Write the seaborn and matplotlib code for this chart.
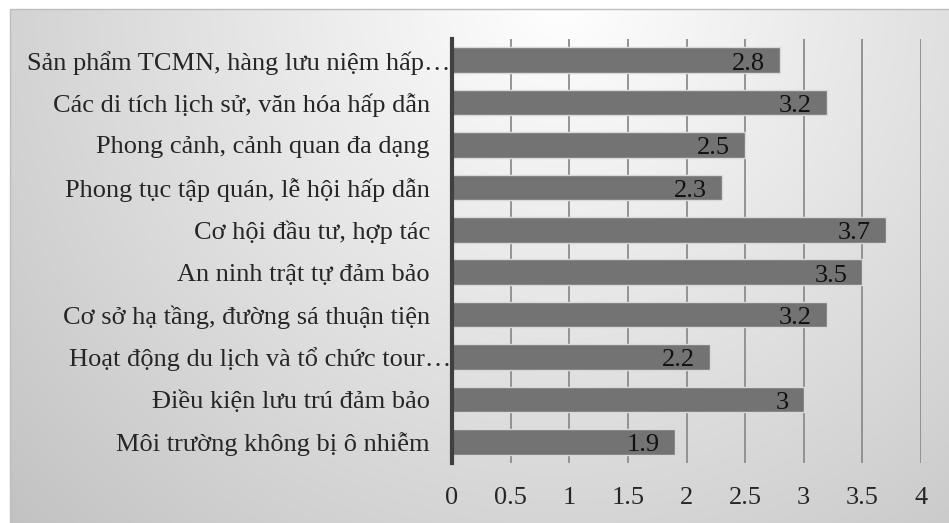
import numpy as np
import pandas as pd
import matplotlib
matplotlib.use("Agg")
import matplotlib.pyplot as plt
import seaborn as sns
from matplotlib.patches import Rectangle
from matplotlib.transforms import ScaledTranslation

# du lieu doc tu hinh (tren xuong duoi)
categories = [
    "Sản phẩm TCMN, hàng lưu niệm hấp…",
    "Các di tích lịch sử, văn hóa hấp dẫn",
    "Phong cảnh, cảnh quan đa dạng",
    "Phong tục tập quán, lễ hội hấp dẫn",
    "Cơ hội đầu tư, hợp tác",
    "An ninh trật tự đảm bảo",
    "Cơ sở hạ tầng, đường sá thuận tiện",
    "Hoạt động du lịch và tổ chức tour…",
    "Điều kiện lưu trú đảm bảo",
    "Môi trường không bị ô nhiễm",
]
scores = [2.8, 3.2, 2.5, 2.3, 3.7, 3.5, 3.2, 2.2, 3.0, 1.9]
score_labels = ["2.8", "3.2", "2.5", "2.3", "3.7", "3.5", "3.2", "2.2", "3", "1.9"]
x_ticks = [0, 0.5, 1, 1.5, 2, 2.5, 3, 3.5, 4]
x_tick_labels = ["0", "0.5", "1", "1.5", "2", "2.5", "3", "3.5", "4"]

sns.set_style("white")
plt.rcParams["font.family"] = ["Liberation Serif", "DejaVu Serif"]
FS = 19

W, H = 949, 523
fig = plt.figure(figsize=(W / 100, H / 100), dpi=100)

# nen gradient xam kieu Excel
bg = fig.add_axes([0, 0, 1, 1])
yy, xx = np.mgrid[0:H, 0:W]
d = np.sqrt((xx - 560) ** 2 + (yy - 0) ** 2)
v = np.clip(255 - 0.08 * d, 194, 255) / 255.0
img = np.dstack([v, v, v])
img[:9, :, :] = 1.0
img[:, :10, :] = 1.0
bg.imshow(img, extent=[0, W, H, 0], aspect="auto", interpolation="bilinear")
bg.add_patch(Rectangle((10, 9), W, H, fill=False, edgecolor="#bdbdbd", linewidth=1))
bg.set_xlim(0, W)
bg.set_ylim(H, 0)
bg.axis("off")

ax = fig.add_axes([452 / W, 1 - 463 / H, (921 - 452) / W, (463 - 39) / H])
ax.set_facecolor("none")

df = pd.DataFrame({"cat": categories, "score": scores})
sns.barplot(data=df, x="score", y="cat", orient="h", color="#737373",
            saturation=1, width=0.6, edgecolor="#d9d9d9", linewidth=1, ax=ax, zorder=3)

for i, (val, lab) in enumerate(zip(scores, score_labels)):
    ax.text(val - 0.13, i + 0.02, lab, ha="right", va="center_baseline",
            fontsize=FS, color="#111111", zorder=4)

ax.set_xlim(0, 4)
ax.set_xticks(x_ticks)
ax.set_xticklabels(x_tick_labels, fontsize=FS)
ax.tick_params(axis="x", length=0, pad=17)
ax.tick_params(axis="y", length=0, pad=16, labelsize=FS)
ax.set_xlabel("")
ax.set_ylabel("")
ax.grid(axis="x", color="#8c8c8c", linewidth=1.3, zorder=1)
ax.set_axisbelow(True)
for s in ["top", "right", "bottom"]:
    ax.spines[s].set_visible(False)
ax.spines["left"].set_color("#404040")
ax.spines["left"].set_linewidth(3)
ax.spines["left"].set_zorder(5)

# nhan bi cat (…) trong Excel lan sat truc hon
for lbl in ax.get_yticklabels():
    if lbl.get_text().endswith("…"):
        lbl.set_transform(lbl.get_transform() + ScaledTranslation(0.21, 0, fig.dpi_scale_trans))

fig.savefig("out.png", dpi=100)
